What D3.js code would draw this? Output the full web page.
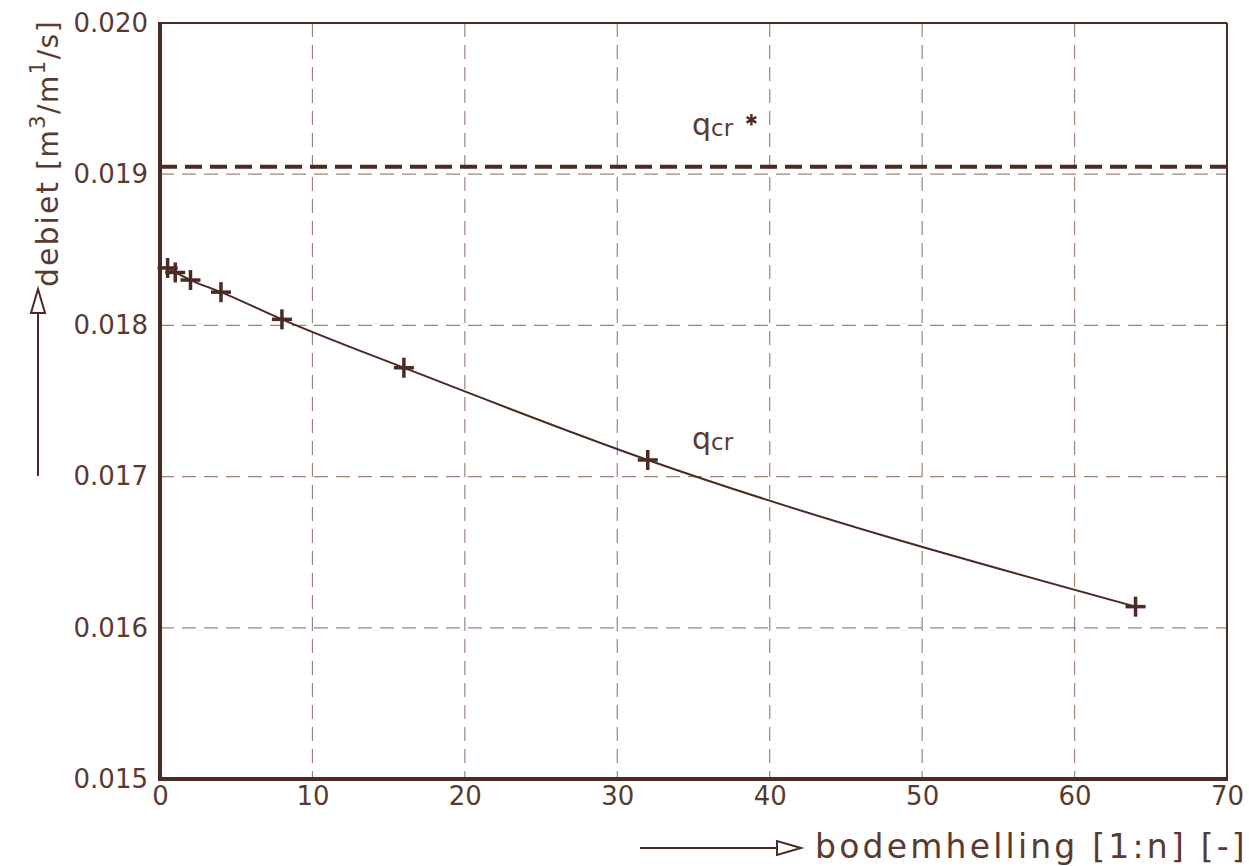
<!DOCTYPE html>
<html>
<head>
<meta charset="utf-8">
<script src="https://cdn.jsdelivr.net/npm/d3@7/dist/d3.min.js"></script>
<style>
  body { margin: 0; background: #fff; }
  text { font-family: "DejaVu Sans", sans-serif; fill: #5a3a30; }
</style>
</head>
<body>
<div id="chart"></div>
<script>
// bodemhelling 1:n  vs  critical discharge
const slopes = [0.5, 1, 2, 4, 8, 16, 32, 64];
const qcr = [0.01838, 0.01835, 0.0183, 0.01822, 0.01804, 0.01772, 0.01711, 0.01614];
const qcrStar = 0.01905;
const xTicks = [0, 10, 20, 30, 40, 50, 60, 70];
const yTicks = [0.015, 0.016, 0.017, 0.018, 0.019, 0.020];

const W = 1249, H = 866;
const margin = { left: 160, top: 23, right: 22, bottom: 87 };
const ink = '#4a2a22';
const gridInk = '#a08478';

const svg = d3.select('#chart').append('svg')
  .attr('width', W)
  .attr('height', H);

const x = d3.scaleLinear().domain([0, 70]).range([margin.left, W - margin.right]);
const y = d3.scaleLinear().domain([0.015, 0.020]).range([H - margin.bottom, margin.top]);

// grid
const grid = svg.append('g').attr('class', 'grid');
grid.selectAll('line.vx')
  .data(xTicks.slice(1, -1))
  .enter().append('line')
  .attr('class', 'vx')
  .attr('x1', d => x(d)).attr('x2', d => x(d))
  .attr('y1', y(0.020)).attr('y2', y(0.015))
  .attr('stroke', gridInk).attr('stroke-width', 1.2)
  .attr('stroke-dasharray', '14,8');
grid.selectAll('line.hy')
  .data(yTicks.slice(1, -1))
  .enter().append('line')
  .attr('class', 'hy')
  .attr('x1', x(0)).attr('x2', x(70))
  .attr('y1', d => y(d)).attr('y2', d => y(d))
  .attr('stroke', gridInk).attr('stroke-width', 1.2)
  .attr('stroke-dasharray', '14,8');

// axes (labels only, frame drawn below)
const xAxis = d3.axisBottom(x).tickValues(xTicks).tickSize(0).tickPadding(8)
  .tickFormat(d3.format('d'));
const gx = svg.append('g')
  .attr('transform', `translate(0,${y(0.015)})`)
  .call(xAxis);
gx.select('.domain').remove();
gx.selectAll('text')
  .attr('font-size', 26)
  .attr('fill', '#5a3a30')
  .style('font-family', '"DejaVu Sans", sans-serif');

const yAxis = d3.axisLeft(y).tickValues(yTicks).tickSize(0).tickPadding(12)
  .tickFormat(d3.format('.3f'));
const gy = svg.append('g')
  .attr('transform', `translate(${x(0)},0)`)
  .call(yAxis);
gy.select('.domain').remove();
gy.selectAll('text')
  .attr('font-size', 26)
  .attr('fill', '#5a3a30')
  .style('font-family', '"DejaVu Sans", sans-serif');

// frame
svg.append('line')
  .attr('x1', x(0)).attr('x2', x(70)).attr('y1', y(0.020)).attr('y2', y(0.020))
  .attr('stroke', ink).attr('stroke-width', 2);
svg.append('line')
  .attr('x1', x(70)).attr('x2', x(70)).attr('y1', y(0.020)).attr('y2', y(0.015))
  .attr('stroke', ink).attr('stroke-width', 2);
svg.append('line')
  .attr('x1', x(0)).attr('x2', x(0)).attr('y1', y(0.020) - 1).attr('y2', y(0.015) + 2)
  .attr('stroke', ink).attr('stroke-width', 4);
svg.append('line')
  .attr('x1', x(0) - 2).attr('x2', x(70) + 1).attr('y1', y(0.015)).attr('y2', y(0.015))
  .attr('stroke', ink).attr('stroke-width', 4);

// qcr* dashed line
svg.append('line')
  .attr('x1', x(0)).attr('x2', x(70))
  .attr('y1', y(qcrStar)).attr('y2', y(qcrStar))
  .attr('stroke', ink).attr('stroke-width', 4)
  .attr('stroke-dasharray', '17,8');

// qcr curve
const line = d3.line()
  .x((d, i) => x(slopes[i]))
  .y(d => y(d))
  .curve(d3.curveMonotoneX);
svg.append('path')
  .datum(qcr)
  .attr('d', line)
  .attr('fill', 'none')
  .attr('stroke', ink)
  .attr('stroke-width', 2);

// cross markers
const cross = svg.append('g').selectAll('g.pt')
  .data(qcr)
  .enter().append('g')
  .attr('class', 'pt')
  .attr('transform', (d, i) => `translate(${x(slopes[i])},${y(d)})`);
cross.append('line').attr('x1', -10).attr('x2', 10).attr('y1', 0).attr('y2', 0)
  .attr('stroke', ink).attr('stroke-width', 3.5);
cross.append('line').attr('x1', 0).attr('x2', 0).attr('y1', -10).attr('y2', 10)
  .attr('stroke', ink).attr('stroke-width', 3.5);

// labels
function qLabel(px, py) {
  const t = svg.append('text')
    .attr('x', px).attr('y', py)
    .attr('font-size', 30);
  t.append('tspan').text('q');
  t.append('tspan').attr('font-size', 23).attr('dy', 1).text('cr');
  return t;
}
qLabel(x(34.9), y(0.01926));
svg.append('path')
  .attr('d', d3.symbol(d3.symbolAsterisk, 90))
  .attr('transform', `translate(${x(38.8)},${y(0.01936)})`)
  .attr('stroke', ink).attr('stroke-width', 2.4).attr('fill', 'none');
qLabel(x(34.9), y(0.01718));

// y axis title with arrow
const yl = svg.append('g').attr('transform', 'translate(58,0)');
yl.append('line')
  .attr('x1', -20).attr('x2', -20).attr('y1', 476).attr('y2', 312)
  .attr('stroke', ink).attr('stroke-width', 2);
yl.append('path')
  .attr('d', 'M-20,289 L-27,313 L-13,313 Z')
  .attr('fill', '#fff').attr('stroke', ink).attr('stroke-width', 2);
yl.append('text')
  .attr('transform', 'translate(0,287) rotate(-90)')
  .attr('font-size', 30)
  .attr('letter-spacing', 2)
  .text('debiet');
const yt = yl.append('text')
  .attr('transform', 'translate(0,170) rotate(-90)')
  .attr('font-size', 28)
  .attr('letter-spacing', 1.5);
yt.append('tspan').text('[m');
yt.append('tspan').attr('font-size', 21).attr('dy', -13).text('3');
yt.append('tspan').attr('dy', 13).text('/m');
yt.append('tspan').attr('font-size', 21).attr('dy', -13).text('1');
yt.append('tspan').attr('dy', 13).text('/s]');

// x axis title with arrow
svg.append('line')
  .attr('x1', 640).attr('x2', 778).attr('y1', 848).attr('y2', 848)
  .attr('stroke', ink).attr('stroke-width', 2);
svg.append('path')
  .attr('d', 'M801,848 L777,841 L777,855 Z')
  .attr('fill', '#fff').attr('stroke', ink).attr('stroke-width', 2);
svg.append('text')
  .attr('x', 815).attr('y', 858)
  .attr('font-size', 33)
  .attr('letter-spacing', 3.2)
  .text('bodemhelling [1:n] [-]');
</script>
</body>
</html>
